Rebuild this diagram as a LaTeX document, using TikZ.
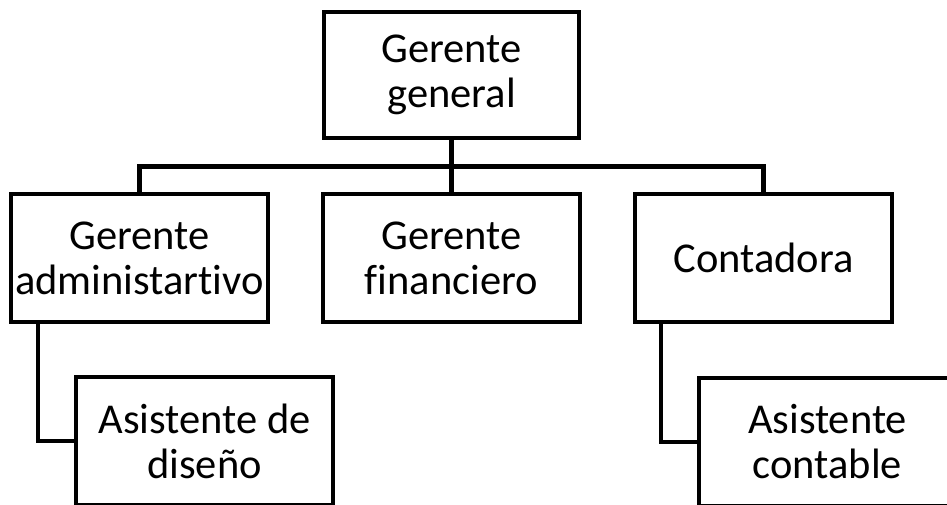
\documentclass[tikz,border=0pt]{standalone}
\usepackage{fontspec}
\setmainfont{Carlito}[Ligatures={NoCommon}]
\begin{document}
\begin{tikzpicture}[x=1pt,y=-1pt,
  box/.style={draw=black,line width=4.5pt,fill=white,rectangle,minimum width=257pt,minimum height=128pt,
    align=center,font=\fontsize{42.5}{45}\selectfont,inner sep=0pt},
  conn/.style={draw=black,line width=4.5pt}]
\clip (0,0) rectangle (947,504);
\fill[white] (0,0) rectangle (947,504);
\node[box,minimum width=255pt,minimum height=126pt] (gg) at (451.5,75) {Gerente\\general};
\node[box] (ga) at (139.5,258) {Gerente\\administartivo};
\node[box] (gf) at (451.5,258) {Gerente\\financiero};
\node[box] (co) at (763.5,258) {Contadora};
\node[box] (ad) at (204.5,441) {Asistente de\\diseño};
\node[box] (ac) at (827.5,442) {Asistente\\contable};
\coordinate (bus) at (451.5,166.5);
\draw[conn] (gg.south) -- (gf.north);
\draw[conn] (ga.north) |- (bus) -| (co.north);
\coordinate (lx) at (38,0);
\coordinate (rx) at (661,0);
\draw[conn] (ga.south -| lx) |- (ad.west);
\draw[conn] (co.south -| rx) |- (ac.west);
\end{tikzpicture}
\end{document}
